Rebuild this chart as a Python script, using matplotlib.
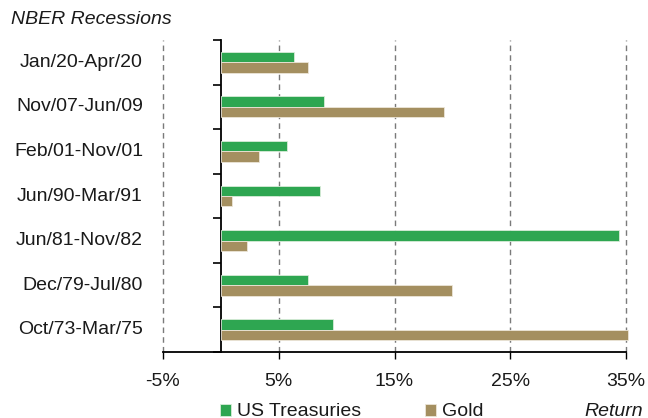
import numpy as np
import matplotlib
matplotlib.use("Agg")
import matplotlib.pyplot as plt

periods = ["Jan/20-Apr/20", "Nov/07-Jun/09", "Feb/01-Nov/01", "Jun/90-Mar/91",
           "Jun/81-Nov/82", "Dec/79-Jul/80", "Oct/73-Mar/75"]
treasuries = [6.3, 8.9, 5.7, 8.6, 34.4, 7.5, 9.7]
gold = [7.5, 19.3, 3.3, 0.95, 2.3, 20.0, 35.2]
xticks = [-5, 5, 15, 25, 35]

green = "#2ea651"
tan = "#a48f60"
fs = 14

plt.rcParams['font.family'] = ['Liberation Sans', 'DejaVu Sans']

fig = plt.figure(figsize=(6.48, 4.18), dpi=100)
ax = fig.add_axes([163/648, 1-352/418, 463/648, 312/418])

y = np.arange(len(periods))
h = 0.235
b1 = ax.barh(y - h/2, treasuries, height=h, color=green, edgecolor="#d8ecd9",
             linewidth=0.6, label="US Treasuries", zorder=3, clip_on=False)
b2 = ax.barh(y + h/2, gold, height=h, color=tan, edgecolor="#ece6d8",
             linewidth=0.6, label="Gold", zorder=3, clip_on=False)

ax.set_xlim(-5, 35)
ax.set_ylim(len(periods) - 0.5, -0.5)
ax.set_xticks(xticks)
ax.set_xticklabels([f"{v}%" for v in xticks], fontsize=fs, color="#1a1a1a")
ax.tick_params(axis="x", direction="out", length=5, width=1, pad=10, color="black")
ax.grid(axis="x", linestyle=(0, (4, 3)), color="#7a7a7a", linewidth=1, zorder=0)
for gl in ax.get_xgridlines():
    gl.set_clip_on(False)

ax.set_yticks(np.arange(len(periods) + 1) - 0.5)
ax.set_yticklabels([])
ax.tick_params(axis="y", direction="out", length=6, width=1.2, color="black")
ax.spines["left"].set_position(("data", 0))
ax.spines["left"].set_linewidth(1.3)
ax.spines["bottom"].set_linewidth(1.3)
ax.spines["top"].set_visible(False)
ax.spines["right"].set_visible(False)

for i, p in enumerate(periods):
    ax.text(-20/463, i, p, transform=ax.get_yaxis_transform(), ha="right",
            va="center", fontsize=fs, color="#1a1a1a")

fig.text(11/648, 1-20/418, "NBER Recessions", fontsize=fs, style="italic",
         ha="left", va="center", color="#1a1a1a")

leg = fig.legend(handles=[b1, b2], loc="center", bbox_to_anchor=(352/648, 1-412/418),
                 ncol=2, frameon=False, fontsize=fs, handlelength=0.57, handleheight=0.57,
                 handletextpad=0.3, columnspacing=3.3)
for t in leg.get_texts():
    t.set_color("#1a1a1a")
fig.text(643/648, 1-412/418, "Return", fontsize=fs, style="italic",
         ha="right", va="center", color="#1a1a1a")

fig.savefig("out.png", dpi=100)
